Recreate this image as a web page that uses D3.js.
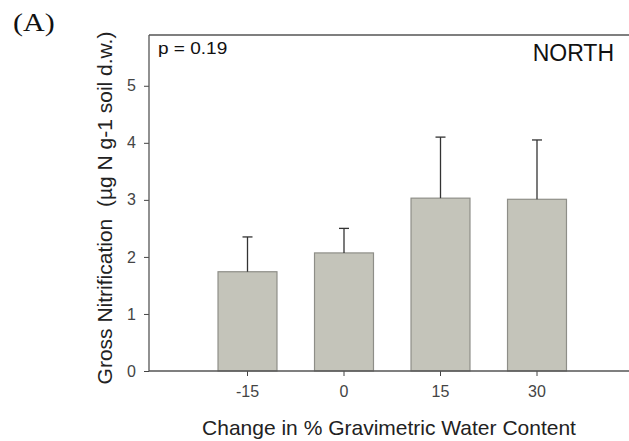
<!DOCTYPE html>
<html>
<head>
<meta charset="utf-8">
<script src="https://cdn.jsdelivr.net/npm/d3@7"></script>
<style>
  html, body { margin: 0; padding: 0; background: #fff; }
  svg { display: block; }
</style>
</head>
<body>
<svg id="chart" width="629" height="441"></svg>
<script>
// Gross nitrification by change in gravimetric water content (NORTH site)
const categories = ["-15", "0", "15", "30"];
const means = [1.74, 2.07, 3.03, 3.01];
const errors = [0.61, 0.43, 1.07, 1.04];
const yTicks = [0, 1, 2, 3, 4, 5];

const plotLeft = 149, plotTop = 35, plotBottom = 371, plotRight = 629;

const svg = d3.select("#chart");

const x = d3.scaleBand()
  .domain(categories)
  .range([199.25, 585.25])
  .paddingInner(0.389)
  .paddingOuter(0.1945);

const y = d3.scaleLinear()
  .domain([0, 5.89])
  .range([plotBottom, plotTop]);

const sans = "Arial, 'Liberation Sans', sans-serif";

// bars
svg.append("g").selectAll("rect")
  .data(categories)
  .join("rect")
  .attr("x", d => x(d))
  .attr("y", (d, i) => y(means[i]))
  .attr("width", x.bandwidth())
  .attr("height", (d, i) => y(0) - y(means[i]))
  .attr("fill", "#c4c4ba")
  .attr("stroke", "#8e8e88")
  .attr("stroke-width", 1.2);

// error bars (upper only)
const eb = svg.append("g").attr("stroke", "#333").attr("stroke-width", 1.3);
categories.forEach((c, i) => {
  const cx = x(c) + x.bandwidth() / 2;
  eb.append("line")
    .attr("x1", cx).attr("x2", cx)
    .attr("y1", y(means[i])).attr("y2", y(means[i] + errors[i]));
  eb.append("line")
    .attr("x1", cx - 5).attr("x2", cx + 5)
    .attr("y1", y(means[i] + errors[i])).attr("y2", y(means[i] + errors[i]));
});

// y axis
const yAxis = svg.append("g")
  .attr("transform", `translate(${plotLeft},0)`)
  .call(d3.axisLeft(y).tickValues(yTicks).tickSize(5).tickPadding(8).tickFormat(d3.format("d")));
yAxis.select(".domain").remove();
yAxis.selectAll(".tick line").attr("stroke", "#444");
yAxis.selectAll(".tick text")
  .attr("fill", "#444").style("font-family", sans).style("font-size", "16px");

// x axis
const xAxis = svg.append("g")
  .attr("transform", `translate(0,${plotBottom})`)
  .call(d3.axisBottom(x).tickSize(5).tickPadding(10));
xAxis.select(".domain").remove();
xAxis.selectAll(".tick line").attr("stroke", "#444");
xAxis.selectAll(".tick text")
  .attr("fill", "#444").style("font-family", sans).style("font-size", "16px");

// frame: left, top and bottom lines
const frame = svg.append("g").attr("stroke", "#555").attr("stroke-width", 1.3).attr("fill", "none");
frame.append("line").attr("x1", plotLeft).attr("x2", plotLeft).attr("y1", plotTop).attr("y2", plotBottom);
frame.append("line").attr("x1", plotLeft).attr("x2", plotRight).attr("y1", plotTop).attr("y2", plotTop);
frame.append("line").attr("x1", plotLeft).attr("x2", plotRight).attr("y1", plotBottom).attr("y2", plotBottom);

// panel label
svg.append("text")
  .attr("transform", "translate(13,31) scale(1.2,1)")
  .style("font-family", "'Times New Roman', 'Liberation Serif', serif")
  .style("font-size", "25px")
  .attr("fill", "#111")
  .text("(A)");

// p value
svg.append("text")
  .attr("transform", "translate(158,54) scale(1.12,1)")
  .style("font-family", sans).style("font-size", "17px")
  .attr("fill", "#111")
  .text("p = 0.19");

// site label
svg.append("text")
  .attr("x", 614).attr("y", 61)
  .attr("text-anchor", "end")
  .style("font-family", sans).style("font-size", "23px")
  .attr("fill", "#111")
  .text("NORTH");

// axis titles
svg.append("text")
  .attr("x", 389).attr("y", 435)
  .attr("text-anchor", "middle")
  .style("font-family", sans).style("font-size", "21px")
  .attr("fill", "#222")
  .text("Change in % Gravimetric Water Content");

svg.append("text")
  .attr("transform", "translate(112,208) rotate(-90)")
  .attr("text-anchor", "middle")
  .style("font-family", sans).style("font-size", "21px")
  .attr("fill", "#222")
  .style("white-space", "pre")
  .text("Gross Nitrification  (\u00b5g N g-1 soil d.w.)");
</script>
</body>
</html>
